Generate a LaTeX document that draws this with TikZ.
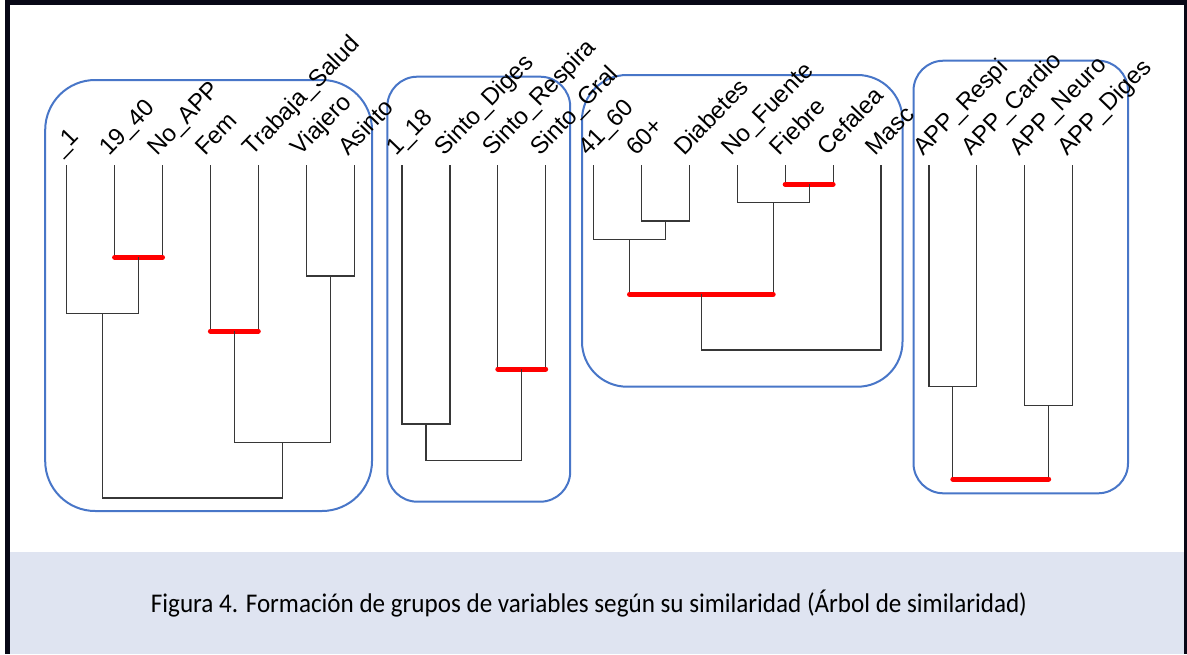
\documentclass[tikz,border=0pt]{standalone}
\usepackage{fontspec}
\newfontfamily\labfont{Liberation Sans}
\newfontfamily\capfont{Carlito}
\definecolor{grpblue}{RGB}{72,118,200}
\definecolor{bandgrey}{RGB}{223,228,241}
\definecolor{framebk}{RGB}{8,8,22}
\definecolor{dendro}{RGB}{55,55,55}
\newcommand\jn[3]{\draw[dline] (#1) |- (#3) -| (#2);}
\newcommand\jnred[3]{\draw[dline] (#1) -- (#1 |- #3) (#2) -- (#2 |- #3);
  \draw[redbar] (#1 |- #3) -- (#2 |- #3);}
\begin{document}
\begin{tikzpicture}[x=1pt,y=-1pt,
  lab/.style={font=\labfont\fontsize{24}{26}\selectfont, anchor=base west, inner sep=0pt,
    rotate=46},
  dline/.style={draw=dendro, line width=1.2pt},
  redbar/.style={draw=red, line width=5pt, line cap=round},
  grp/.style={draw=grpblue, line width=2pt},
  captxt/.style={font=\capfont\fontsize{27}{30}\selectfont, inner sep=0pt}]
\useasboundingbox (0,0) rectangle (1187,654);
% frame and band
\fill[framebk] (5,0) rectangle (1187,654);
\fill[white] (10,5) rectangle (1184,654);
\fill[bandgrey] (10,552) rectangle (1184,654);
% group boxes
\draw[grp, rounded corners=50pt] (45.2,80) rectangle (372,511);
\draw[grp, rounded corners=30pt] (387.3,76.7) rectangle (570.2,501.7);
\draw[grp, rounded corners=45pt] (582,75) rectangle (902.5,386.7);
\draw[grp, rounded corners=30pt] (913.5,60.7) rectangle (1128,493.3);
% leaves and labels
\foreach \t [count=\i from 0] in {\_1,19\_40,No\_APP,Fem,Trabaja\_Salud,Viajero,Asinto,
  1\_18,Sinto\_Diges,Sinto\_Respira,Sinto\_Gral,41\_60,60+,Diabetes,No\_Fuente,Fiebre,Cefalea,Masc,
  APP\_Respi,APP\_Cardio,APP\_Neuro,APP\_Diges}{
  \coordinate (L\i) at ({66.7+47.9*\i},165);
  \node[lab] (T\i) at ({61.2+47.9*\i},157) {\t};
}
% merge points
\coordinate (ma) at (138.55,257.3);
\coordinate (mb) at (102.6,313.3);
\coordinate (mc) at (234.35,331);
\coordinate (md) at (330.15,276);
\coordinate (me) at (282.25,442.3);
\coordinate (mf) at (192.4,498);
\coordinate (mg) at (521.75,369);
\coordinate (mh) at (425.95,424);
\coordinate (mi) at (473.85,460.7);
\coordinate (mj) at (665.45,221);
\coordinate (mk) at (629.5,239.3);
\coordinate (ml) at (809.15,184.3);
\coordinate (mm) at (773.2,202.3);
\coordinate (mn) at (701.35,294.3);
\coordinate (mo) at (791.2,350);
\coordinate (mp) at (952.85,386.7);
\coordinate (mq) at (1048.65,405.7);
\coordinate (mr) at (1000.75,479);
% group 1
\jnred{L1}{L2}{ma}
\jn{L0}{ma}{mb}
\jnred{L3}{L4}{mc}
\jn{L5}{L6}{md}
\jn{mc}{md}{me}
\jn{mb}{me}{mf}
% group 2
\jnred{L9}{L10}{mg}
\jn{L7}{L8}{mh}
\jn{mh}{mg}{mi}
% group 3
\jn{L12}{L13}{mj}
\jn{L11}{mj}{mk}
\jnred{L15}{L16}{ml}
\jn{L14}{ml}{mm}
\jnred{mk}{mm}{mn}
\jn{mn}{L17}{mo}
% group 4
\jn{L18}{L19}{mp}
\jn{L20}{L21}{mq}
\jnred{mp}{mq}{mr}
% caption
\node[captxt, cm={0.93,0,0,1,(0,0)}] (caption) at (589,604) {Figura 4. Formación de grupos de variables según su similaridad (Árbol de similaridad)};
\end{tikzpicture}
\end{document}
